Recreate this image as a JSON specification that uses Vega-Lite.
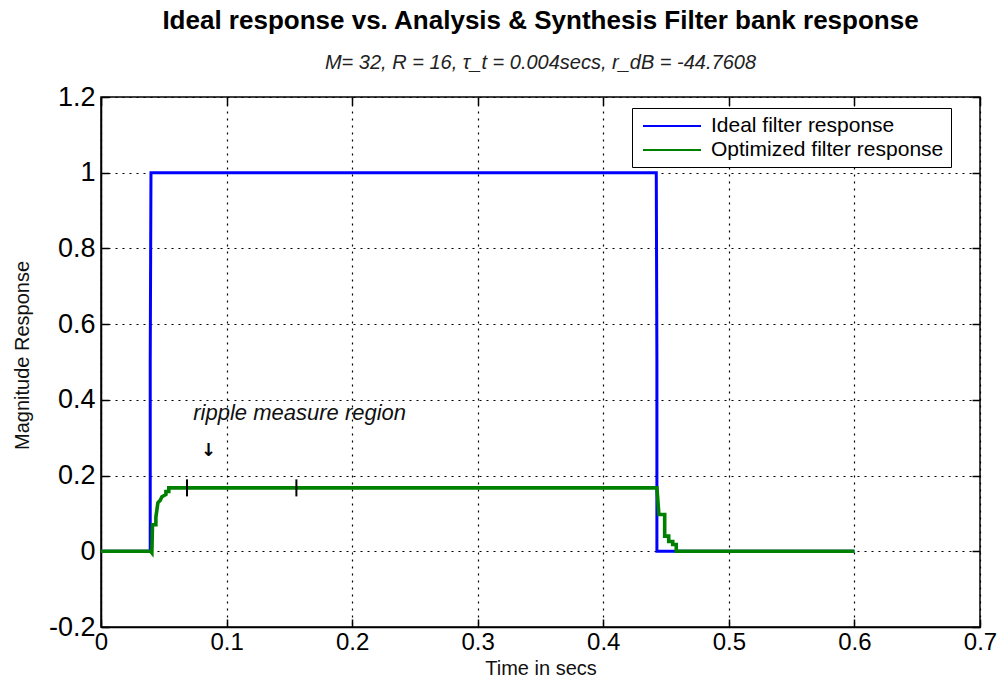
{
  "$schema": "https://vega.github.io/schema/vega-lite/v6.json",
  "width": 879,
  "height": 530,
  "autosize": {"type": "none"},
  "padding": {"left": 101, "top": 97, "right": 24, "bottom": 64},
  "background": "white",
  "config": {
    "font": "Liberation Sans",
    "view": {"stroke": "black", "strokeWidth": 1.5},
    "axis": {
      "grid": true,
      "gridColor": "black",
      "gridOpacity": 1,
      "gridDash": [2, 5],
      "gridWidth": 1.2,
      "domainColor": "black",
      "domainWidth": 1.5,
      "tickColor": "black",
      "tickWidth": 1.5,
      "tickSize": -8,
      "labelColor": "black",
      "labelFontSize": 24,
      "labelFlush": false,
      "labelOverlap": false,
      "titleColor": "#111111",
      "titleFontSize": 20,
      "titleFontWeight": "normal"
    },
    "title": {"font": "Liberation Sans"}
  },
  "title": {
    "text": "Ideal response vs. Analysis & Synthesis Filter bank response",
    "subtitle": "M= 32, R = 16, τ_t = 0.004secs, r_dB = -44.7608",
    "anchor": "middle",
    "fontSize": 26,
    "fontWeight": "bold",
    "color": "black",
    "subtitleFontSize": 20,
    "subtitleFontStyle": "italic",
    "subtitleColor": "#222222",
    "subtitlePadding": 19,
    "offset": 10
  },
  "datasets": {
    "lines": [
      {"series": "Ideal filter response", "idx": 0, "t": 0, "v": 0},
      {"series": "Ideal filter response", "idx": 1, "t": 0.0392, "v": 0},
      {"series": "Ideal filter response", "idx": 2, "t": 0.0392, "v": 0.5},
      {"series": "Ideal filter response", "idx": 3, "t": 0.0398, "v": 1},
      {"series": "Ideal filter response", "idx": 4, "t": 0.4422, "v": 1},
      {"series": "Ideal filter response", "idx": 5, "t": 0.4427, "v": 0.5},
      {"series": "Ideal filter response", "idx": 6, "t": 0.4427, "v": 0},
      {"series": "Ideal filter response", "idx": 7, "t": 0.6, "v": 0},
      {"series": "Optimized filter response", "idx": 100, "t": 0, "v": 0},
      {"series": "Optimized filter response", "idx": 101, "t": 0.0395, "v": 0},
      {"series": "Optimized filter response", "idx": 102, "t": 0.0405, "v": -0.004},
      {"series": "Optimized filter response", "idx": 103, "t": 0.041, "v": 0.07},
      {"series": "Optimized filter response", "idx": 104, "t": 0.0437, "v": 0.07},
      {"series": "Optimized filter response", "idx": 105, "t": 0.0437, "v": 0.09},
      {"series": "Optimized filter response", "idx": 106, "t": 0.0453, "v": 0.128},
      {"series": "Optimized filter response", "idx": 107, "t": 0.0472, "v": 0.135},
      {"series": "Optimized filter response", "idx": 108, "t": 0.0485, "v": 0.144},
      {"series": "Optimized filter response", "idx": 109, "t": 0.0517, "v": 0.15},
      {"series": "Optimized filter response", "idx": 110, "t": 0.0517, "v": 0.158},
      {"series": "Optimized filter response", "idx": 111, "t": 0.054, "v": 0.158},
      {"series": "Optimized filter response", "idx": 112, "t": 0.054, "v": 0.1675},
      {"series": "Optimized filter response", "idx": 113, "t": 0.4427, "v": 0.1675},
      {"series": "Optimized filter response", "idx": 114, "t": 0.4443, "v": 0.097},
      {"series": "Optimized filter response", "idx": 115, "t": 0.4489, "v": 0.097},
      {"series": "Optimized filter response", "idx": 116, "t": 0.4489, "v": 0.04},
      {"series": "Optimized filter response", "idx": 117, "t": 0.4521, "v": 0.04},
      {"series": "Optimized filter response", "idx": 118, "t": 0.4521, "v": 0.026},
      {"series": "Optimized filter response", "idx": 119, "t": 0.4553, "v": 0.026},
      {"series": "Optimized filter response", "idx": 120, "t": 0.4553, "v": 0.018},
      {"series": "Optimized filter response", "idx": 121, "t": 0.4581, "v": 0.018},
      {"series": "Optimized filter response", "idx": 122, "t": 0.4581, "v": 0},
      {"series": "Optimized filter response", "idx": 123, "t": 0.6, "v": 0}
    ],
    "markers": [
      {"t": 0.0685, "lo": 0.145, "hi": 0.19},
      {"t": 0.1556, "lo": 0.145, "hi": 0.19}
    ],
    "notes": [
      {"t": 0.0735, "v": 0.365, "label": "ripple measure region", "kind": "text"},
      {"t": 0.0855, "v": 0.265, "label": "↓", "kind": "arrow"}
    ]
  },
  "resolve": {"axis": {"x": "independent", "y": "independent"}},
  "layer": [
    {
      "data": {"name": "lines"},
      "transform": [{"filter": "datum.series === 'Ideal filter response'"}],
      "mark": {"type": "line", "interpolate": "linear", "strokeWidth": 3},
      "encoding": {
        "x": {
          "field": "t", "type": "quantitative",
          "scale": {"domain": [0, 0.7], "nice": false, "zero": false},
          "axis": {
            "orient": "bottom",
            "values": [0, 0.1, 0.2, 0.3, 0.4, 0.5, 0.6, 0.7],
            "labelExpr": "'' + datum.value",
            "labelPadding": 11,
            "title": "Time in secs",
            "titlePadding": 4
          }
        },
        "y": {
          "field": "v", "type": "quantitative",
          "scale": {"domain": [-0.2, 1.2], "nice": false, "zero": false},
          "axis": {
            "orient": "left",
            "values": [-0.2, 0, 0.2, 0.4, 0.6, 0.8, 1, 1.2],
            "labelExpr": "'' + datum.value",
            "labelFontSize": 27,
            "labelPadding": 14,
            "title": "Magnitude Response",
            "titleX": -79,
            "titleY": 258,
            "titleAlign": "center",
            "titleBaseline": "middle"
          }
        },
        "color": {
          "field": "series", "type": "nominal",
          "scale": {"domain": ["Ideal filter response", "Optimized filter response"], "range": ["#0000ff", "#008000"]},
          "legend": {
            "title": null,
            "orient": "none",
            "legendX": 531,
            "legendY": 11,
            "strokeColor": "black",
            "fillColor": "white",
            "padding": 7,
            "labelFontSize": 21,
            "labelColor": "black",
            "labelLimit": 400,
            "labelOffset": 28,
            "symbolType": "M-2.9,0H2.9",
            "symbolSize": 400,
            "symbolOffset": 22,
            "symbolStrokeWidth": 2,
            "rowPadding": 3,
            "cornerRadius": 0
          }
        },
        "order": {"field": "idx", "type": "quantitative"}
      }
    },
    {
      "data": {"name": "lines"},
      "transform": [{"filter": "datum.series === 'Optimized filter response'"}],
      "mark": {"type": "line", "interpolate": "linear", "strokeWidth": 3.6},
      "encoding": {
        "x": {"field": "t", "type": "quantitative", "axis": null},
        "y": {"field": "v", "type": "quantitative", "axis": null},
        "color": {"field": "series", "type": "nominal"},
        "order": {"field": "idx", "type": "quantitative"}
      }
    },
    {
      "data": {"name": "markers"},
      "mark": {"type": "rule", "color": "black", "strokeWidth": 2},
      "encoding": {
        "x": {
          "field": "t", "type": "quantitative",
          "axis": {"orient": "top", "values": [0, 0.1, 0.2, 0.3, 0.4, 0.5, 0.6, 0.7], "labels": false, "grid": false, "domain": false, "title": null}
        },
        "y": {
          "field": "lo", "type": "quantitative",
          "axis": {"orient": "right", "values": [-0.2, 0, 0.2, 0.4, 0.6, 0.8, 1, 1.2], "labels": false, "grid": false, "domain": false, "title": null}
        },
        "y2": {"field": "hi"}
      }
    },
    {
      "data": {"name": "notes"},
      "transform": [{"filter": "datum.kind === 'text'"}],
      "mark": {"type": "text", "align": "left", "baseline": "middle", "fontSize": 22, "fontStyle": "italic", "color": "#111111"},
      "encoding": {
        "x": {"field": "t", "type": "quantitative", "axis": null},
        "y": {"field": "v", "type": "quantitative", "axis": null},
        "text": {"field": "label"}
      }
    },
    {
      "data": {"name": "notes"},
      "transform": [{"filter": "datum.kind === 'arrow'"}],
      "mark": {"type": "text", "align": "center", "baseline": "middle", "fontSize": 18, "fontWeight": "bold", "font": "DejaVu Sans", "color": "black"},
      "encoding": {
        "x": {"field": "t", "type": "quantitative", "axis": null},
        "y": {"field": "v", "type": "quantitative", "axis": null},
        "text": {"field": "label"}
      }
    }
  ]
}
